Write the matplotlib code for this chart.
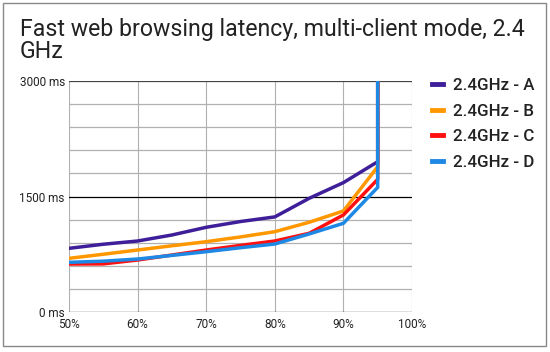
import matplotlib
matplotlib.use("Agg")
import matplotlib.pyplot as plt
from matplotlib.patches import Rectangle

plt.rcParams["font.family"] = ["Roboto", "DejaVu Sans"]

# load level (%) and latency (ms); the last point goes off the top of the chart
load_pct = [50, 55, 60, 65, 70, 75, 80, 85, 90, 95, 95]
series_names = ["2.4GHz - A", "2.4GHz - B", "2.4GHz - C", "2.4GHz - D"]
latency_a = [827, 880, 922, 1000, 1100, 1175, 1235, 1476, 1680, 1952, 3600]
latency_b = [697, 750, 805, 860, 913, 975, 1043, 1165, 1312, 1887, 3600]
latency_c = [623, 625, 675, 740, 805, 865, 922, 1022, 1260, 1723, 3600]
latency_d = [645, 660, 688, 735, 783, 835, 883, 1013, 1152, 1619, 3600]
colors = ["#3f1f99", "#ff9800", "#ff1010", "#1e88e5"]

y_ticks = [0, 1500, 3000]
y_tick_labels = ["0 ms", "1500 ms", "3000 ms"]
x_ticks = [50, 60, 70, 80, 90, 100]
x_tick_labels = ["50%", "60%", "70%", "80%", "90%", "100%"]

fig = plt.figure(figsize=(5.5, 3.52), dpi=100)
fig.patch.set_facecolor("white")
ax = fig.add_axes([69 / 550, 1 - 312 / 352, 343 / 550, 231 / 352])

# grid
for gx in range(50, 101, 10):
    ax.axvline(gx, color="#b0b0b0", lw=0.8, zorder=1)
for gy in range(0, 3001, 300):
    col = "#000000" if gy in (0, 1500) else ("#444444" if gy == 3000 else "#b0b0b0")
    ax.axhline(gy, color=col, lw=0.9, zorder=1 if col == "#b0b0b0" else 2)

for name, ys, c in zip(series_names, [latency_a, latency_b, latency_c, latency_d], colors):
    ax.plot(load_pct, ys, color=c, lw=2.5, label=name, zorder=3,
            solid_joinstyle="miter")

ax.set_xlim(50, 100)
ax.set_ylim(0, 3000)
ax.set_xticks(x_ticks, x_tick_labels)
ax.set_yticks(y_ticks, y_tick_labels)
ax.tick_params(length=0, labelsize=8.5, labelcolor="#222222", pad=3)
ax.tick_params(axis="x", pad=4)
for s in ax.spines.values():
    s.set_visible(False)

leg = fig.legend(loc="upper left", bbox_to_anchor=(417 / 550, 1 - 63 / 352),
                 frameon=False, handlelength=0.65, handletextpad=0.55,
                 labelspacing=0.62, prop={"weight": "medium", "size": 12.2})
for t in leg.get_texts():
    t.set_color("#222222")
for h in leg.legend_handles:
    h.set_linewidth(3.5)

fig.text(20 / 550, 1 - 18 / 352, "Fast web browsing latency, multi-client mode, 2.4\nGHz",
         ha="left", va="top", fontsize=16.7, color="#222222", linespacing=0.95)

# outer frame
fig.add_artist(Rectangle((3 / 550, 6 / 352), 543 / 550, 343 / 352, transform=fig.transFigure,
                         fill=False, edgecolor="#888888", lw=1.0))

fig.savefig("out.png", dpi=100, facecolor="white")
